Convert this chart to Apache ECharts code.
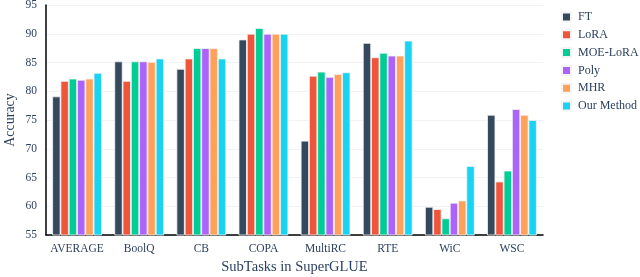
<!DOCTYPE html>
<html><head><meta charset="utf-8">
<script src="https://cdn.jsdelivr.net/npm/echarts@6/dist/echarts.min.js"></script>
<style>html,body{margin:0;padding:0;background:#fff}#c{width:640px;height:277px}</style>
</head><body><div id="c"></div>
<script>
const categories = ['AVERAGE','BoolQ','CB','COPA','MultiRC','RTE','WiC','WSC'];
const seriesNames = ['FT','LoRA','MOE-LoRA','Poly','MHR','Our Method'];
const colors = ['#34495E','#EF553B','#00CC96','#AB63FA','#FFA15A','#19D3F3'];
const FT     = [79.1, 85.2, 83.9, 89.0, 71.4, 88.4, 59.9, 75.9];
const LoRA   = [81.8, 81.8, 85.7, 90.0, 82.7, 85.9, 59.5, 64.3];
const MOE    = [82.2, 85.2, 87.5, 91.0, 83.4, 86.7, 57.9, 66.2];
const Poly   = [82.0, 85.2, 87.5, 90.0, 82.5, 86.2, 60.6, 76.9];
const MHR    = [82.2, 85.1, 87.5, 90.0, 83.0, 86.2, 61.0, 75.9];
const Ours   = [83.2, 85.7, 85.7, 90.0, 83.3, 88.8, 67.0, 75.0];
const yTicks = [55, 60, 65, 70, 75, 80, 85, 90, 95];
const values = [FT, LoRA, MOE, Poly, MHR, Ours];
const font = "'Liberation Serif', 'Times New Roman', serif";
const txt = '#2a3f5f';
const chart = echarts.init(document.getElementById('c'));
chart.setOption({
  animation: false,
  color: colors,
  textStyle: {fontFamily: font},
  grid: {left: 46, right: 97, top: 5, bottom: 42, containLabel: false, outerBoundsMode: 'none'},
  legend: {
    orient: 'vertical', left: 556, top: 6, itemWidth: 9, itemHeight: 9, itemGap: 5.8,
    icon: 'rect',
    textStyle: {fontFamily: font, fontSize: 12, color: txt, padding: [0,0,0,2]},
    data: seriesNames
  },
  xAxis: {
    type: 'category', data: categories,
    name: 'SubTasks in SuperGLUE', nameLocation: 'middle', nameGap: 25, nameMoveOverlap: false,
    nameTextStyle: {fontFamily: font, fontSize: 14.5, color: txt},
    axisLine: {lineStyle: {color: '#000', width: 1.5}},
    axisTick: {show: false},
    axisLabel: {interval: 0, fontFamily: font, fontSize: 11.5, color: txt, margin: 8}
  },
  yAxis: {
    type: 'value', min: yTicks[0], max: yTicks[yTicks.length-1], interval: 5,
    name: 'Accuracy', nameLocation: 'middle', nameGap: 29, nameMoveOverlap: false,
    nameTextStyle: {fontFamily: font, fontSize: 14, color: txt},
    axisLine: {show: true, lineStyle: {color: '#000', width: 1.5}},
    axisTick: {show: false},
    axisLabel: {fontFamily: font, fontSize: 11.5, color: txt, margin: 9},
    splitLine: {lineStyle: {color: '#f0f2f5', width: 1}}
  },
  series: seriesNames.map((n, i) => ({
    name: n, type: 'bar', data: values[i],
    barGap: '0%', barCategoryGap: '20%',
    itemStyle: {color: colors[i], borderColor: '#f4f4f4', borderWidth: 0.8}
  }))
});
</script></body></html>
